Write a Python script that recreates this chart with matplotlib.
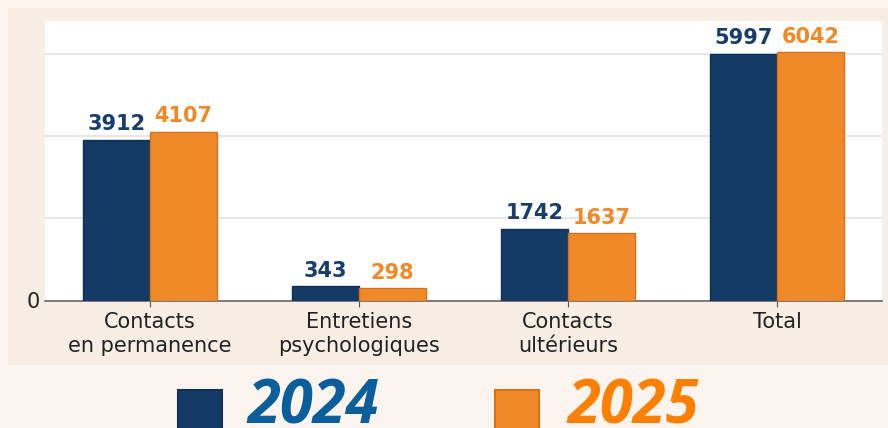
import numpy as np
import matplotlib
matplotlib.use("Agg")
import matplotlib.pyplot as plt
from matplotlib.patches import Rectangle

categories = ["Contacts\nen permanence", "Entretiens\npsychologiques", "Contacts\nultérieurs", "Total"]
values_2024 = [3912, 343, 1742, 5997]
values_2025 = [4107, 298, 1637, 6042]
years = ["2024", "2025"]

BLUE = "#143a66"
BLUE_EDGE = "#0f2f55"
ORANGE = "#f08a28"
ORANGE_EDGE = "#d9711a"
BLUE_TEXT = "#0a5e9b"
ORANGE_TEXT = "#ff7f00"

fig = plt.figure(figsize=(8.88, 4.28), dpi=100)
fig.patch.set_facecolor("#fcf5ef")

# beige panel behind the chart
fig.patches.append(Rectangle((8 / 888, 1 - 365 / 428), 1, (365 - 8) / 428,
                             transform=fig.transFigure, facecolor="#f8eee4",
                             edgecolor="none", zorder=0))

ax = fig.add_axes([45 / 888, 1 - 300.5 / 428, (882 - 45) / 888, (300.5 - 21) / 428])
ax.set_zorder(1)
ax.set_facecolor("white")

x = np.arange(len(categories))
w = 0.32
b1 = ax.bar(x - w / 2, values_2024, w, color=BLUE, edgecolor=BLUE_EDGE, linewidth=1, zorder=3)
b2 = ax.bar(x + w / 2, values_2025, w, color=ORANGE, edgecolor=ORANGE_EDGE, linewidth=1, zorder=3)

for rect, v in zip(b1, values_2024):
    ax.annotate(f"{v}", (rect.get_x() + rect.get_width() / 2, v), xytext=(0, 4),
                textcoords="offset points", ha="center", va="bottom",
                fontsize=15, fontweight="bold", color="#163d6b")
for rect, v in zip(b2, values_2025):
    ax.annotate(f"{v}", (rect.get_x() + rect.get_width() / 2, v), xytext=(0, 4),
                textcoords="offset points", ha="center", va="bottom",
                fontsize=15, fontweight="bold", color=ORANGE)

ax.set_xlim(-0.5, 3.5)
ax.set_ylim(0, 6800)
ax.set_yticks([0, 2000, 4000, 6000])
ax.set_yticklabels(["0", "", "", ""], fontsize=15, color="#222222")
ax.set_xticks(x)
ax.set_xticklabels(categories, fontsize=15, linespacing=1.25, color="#222222")
ax.tick_params(axis="y", length=0, pad=4)
ax.tick_params(axis="x", length=4, color="#555555", pad=4)
ax.grid(axis="y", color="#e3e3e3", linewidth=1.2, zorder=0)
for s in ["top", "right", "left"]:
    ax.spines[s].set_visible(False)
ax.spines["bottom"].set_color("#666666")
ax.spines["bottom"].set_linewidth(1.2)

# legend below the chart
fig.patches.append(Rectangle((178 / 888, 1 - 434 / 428), 44 / 888, 44 / 428,
                             transform=fig.transFigure, facecolor=BLUE,
                             edgecolor=BLUE_EDGE, linewidth=1.5, zorder=2))
fig.patches.append(Rectangle((495 / 888, 1 - 434 / 428), 44 / 888, 44 / 428,
                             transform=fig.transFigure, facecolor=ORANGE,
                             edgecolor=ORANGE_EDGE, linewidth=1.5, zorder=2))
fig.text(247 / 888, 1 - 424 / 428, years[0], fontsize=43, fontweight="bold",
         style="italic", family="Open Sans", color=BLUE_TEXT, ha="left", va="baseline")
fig.text(567 / 888, 1 - 424 / 428, years[1], fontsize=43, fontweight="bold",
         style="italic", family="Open Sans", color=ORANGE_TEXT, ha="left", va="baseline")

fig.savefig("out.png", dpi=100, facecolor=fig.get_facecolor())
